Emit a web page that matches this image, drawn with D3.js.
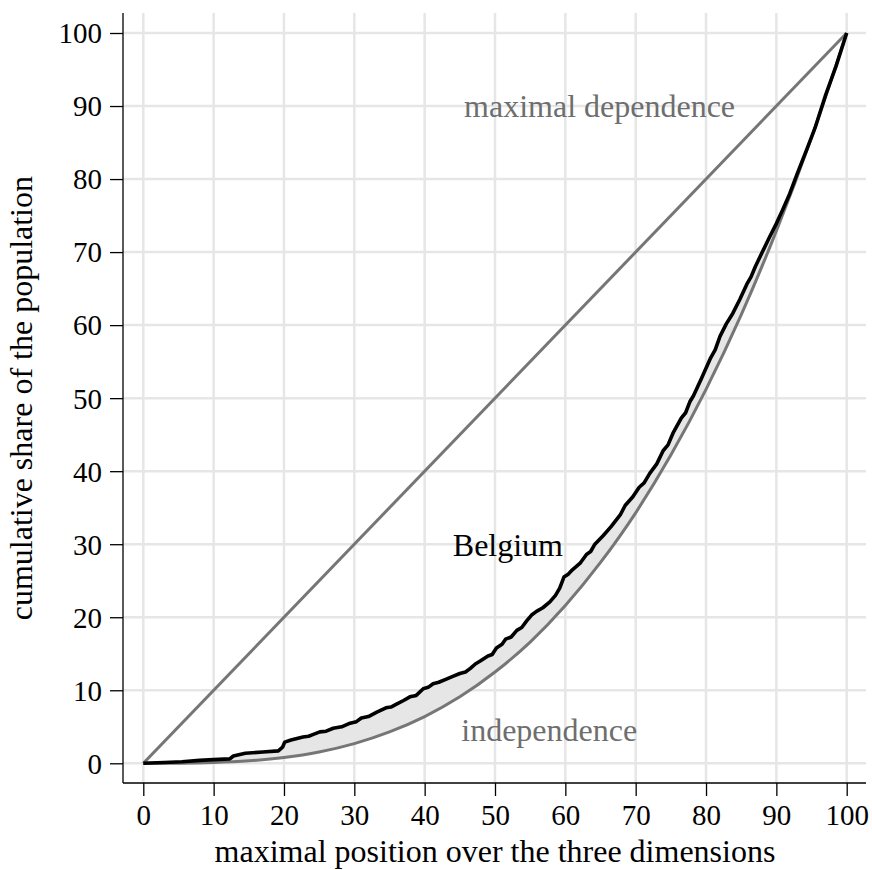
<!DOCTYPE html>
<html>
<head>
<meta charset="utf-8">
<script src="https://cdn.jsdelivr.net/npm/d3@7"></script>
<style>
  body { margin: 0; background: #fff; }
</style>
</head>
<body>
<div id="chart"></div>
<script>
var svgWidth = 872;
var svgHeight = 870;
var serif = "Liberation Serif";

// tick values on both axes
var tickValues = [0, 10, 20, 30, 40, 50, 60, 70, 80, 90, 100];

// diagonal (maximal dependence)
var depX = [0, 100];
var depY = [0, 100];

// independence curve
var indepX = [0, 5, 10, 15, 20, 25, 30, 35, 40, 45, 50, 55, 60, 65, 70, 75, 80, 85, 90, 95, 100];
var indepY = [0, 0.01, 0.1, 0.34, 0.8, 1.56, 2.7, 4.3, 6.4, 9.1, 12.5, 16.6, 21.6, 27.5, 34.3, 42.2, 51.2, 61.4, 72.9, 85.7, 100];

// Belgium curve
var belX = [0, 3, 5.5, 8, 10, 12.3, 12.8, 14.5, 17, 19.2, 19.8, 20.1, 21, 22.7, 23.5, 24, 25.1, 26, 27, 28.2, 29.4, 30.3, 31, 32, 33.2,
  34.5, 35.2, 36, 37, 37.9, 38.8, 39.8, 40.5, 41.2, 42, 43, 44, 45, 45.8, 46.5, 47.2, 47.9, 49, 49.6, 50.2, 51, 51.5, 52.3, 53.1,
  53.8, 54.5, 55.2, 55.9, 56.8, 57.8, 58.6, 59.2, 59.8,
  60.4, 61, 62.1, 63, 63.6, 64.2, 65.4, 66.5, 67.3, 67.8, 68.5, 69.6, 70.5, 71.2, 72, 73, 73.9, 74.6, 75.3, 76.5, 77.1, 77.7, 78.2, 79.3,
  80.6, 81.3, 82, 82.9, 83.8, 84.8, 85.8, 86.4, 87, 88.1, 89, 90, 90.9, 91.9, 93, 94.3, 95.5, 97, 98.5, 100];
var belY = [0, 0.1, 0.22, 0.4, 0.5, 0.6, 1.0, 1.37, 1.55, 1.7, 2.2, 2.9, 3.2, 3.6, 3.7, 3.9, 4.3, 4.4, 4.8, 5.0, 5.5, 5.7, 6.2, 6.4, 7.0,
  7.6, 7.7, 8.1, 8.6, 9.1, 9.3, 10.2, 10.4, 10.9, 11.1, 11.5, 11.9, 12.3, 12.5, 13.0, 13.6, 14.0, 14.7, 14.9, 15.8, 16.3, 17.0, 17.3, 18.2,
  18.6, 19.5, 20.3, 20.8, 21.3, 22.1, 23.0, 24.0, 25.5,
  25.9, 26.5, 27.4, 28.6, 29.0, 30.0, 31.2, 32.4, 33.4, 34.0, 35.3, 36.5, 37.8, 38.4, 39.7, 41.0, 42.8, 43.6, 45.2, 47.3, 48.0, 49.5, 50.3, 52.6,
  55.4, 56.6, 58.5, 60.2, 61.6, 63.5, 65.6, 66.6, 68.0, 70.2, 72.0, 73.9, 75.8, 78.0, 80.8, 84.0, 87.0, 91.5, 95.5, 100];

var labels = [
  { text: "maximal dependence", x: 45.6, y: 88.5, color: "#6e6e6e" },
  { text: "Belgium", x: 44.0, y: 28.4, color: "#000" },
  { text: "independence", x: 45.2, y: 3.05, color: "#6e6e6e" }
];

var plotLeft = 123, plotRight = 866, plotTop = 13, plotBottom = 783;

var svg = d3.select("#chart")
  .append("svg")
  .attr("width", svgWidth)
  .attr("height", svgHeight)
  .style("font-family", serif);

var xScale = d3.scaleLinear().domain([0, 100]).range([143.3, 846.7]);
var yScale = d3.scaleLinear().domain([0, 100]).range([763.3, 33]);

// grid
svg.append("g").selectAll("line")
  .data(tickValues).enter().append("line")
  .attr("x1", d => xScale(d)).attr("x2", d => xScale(d))
  .attr("y1", plotTop).attr("y2", plotBottom)
  .attr("stroke", "#e6e6e6").attr("stroke-width", 2.5);

svg.append("g").selectAll("line")
  .data(tickValues).enter().append("line")
  .attr("y1", d => yScale(d)).attr("y2", d => yScale(d))
  .attr("x1", plotLeft).attr("x2", plotRight)
  .attr("stroke", "#e6e6e6").attr("stroke-width", 2.5);

var indep = indepX.map((x, i) => [x, indepY[i]]);
var bel = belX.map((x, i) => [x, belY[i]]);
var dep = depX.map((x, i) => [x, depY[i]]);

var line = d3.line().x(d => xScale(d[0])).y(d => yScale(d[1]));
var smoothLine = d3.line().x(d => xScale(d[0])).y(d => yScale(d[1])).curve(d3.curveMonotoneX);

// sample the smooth independence curve for the closing edge of the shading
var tmp = svg.append("path").attr("d", smoothLine(indep)).attr("fill", "none");
var node = tmp.node();
var len = node.getTotalLength();
var indepDense = [];
for (var i = 0; i <= 200; i++) {
  var p = node.getPointAtLength(len * i / 200);
  indepDense.push([xScale.invert(p.x), yScale.invert(p.y)]);
}
tmp.remove();

// shaded area between Belgium and independence
svg.append("path")
  .attr("d", line(bel.concat(indepDense.slice().reverse())) + "Z")
  .attr("fill", "#e6e6e6")
  .attr("stroke", "none");

// diagonal
svg.append("path")
  .attr("d", line(dep))
  .attr("fill", "none").attr("stroke", "#767676").attr("stroke-width", 3);

// independence
svg.append("path")
  .attr("d", smoothLine(indep))
  .attr("fill", "none").attr("stroke", "#767676").attr("stroke-width", 3);

// Belgium
svg.append("path")
  .attr("d", line(bel))
  .attr("fill", "none").attr("stroke", "#000").attr("stroke-width", 3.6)
  .attr("stroke-linejoin", "round");

// axes
var leftAxis = d3.axisLeft(yScale).tickValues(tickValues).tickSize(13).tickPadding(8);
var bottomAxis = d3.axisBottom(xScale).tickValues(tickValues).tickSize(13).tickPadding(8);

var gy = svg.append("g").attr("transform", `translate(${plotLeft}, 0)`).call(leftAxis);
var gx = svg.append("g").attr("transform", `translate(0, ${plotBottom})`).call(bottomAxis);

[gx, gy].forEach(function(g) {
  g.attr("font-family", null).attr("font-size", null);
  g.select(".domain").remove();
  g.selectAll("line").attr("stroke", "#000").attr("stroke-width", 1.3);
  g.selectAll("text")
    .style("font-family", serif)
    .style("font-size", "29px")
    .attr("fill", "#000");
});
gy.selectAll("text").attr("dy", "0.34em");
gx.selectAll("text").attr("dy", "0.72em");

svg.append("line")
  .attr("x1", plotLeft).attr("x2", plotLeft)
  .attr("y1", plotTop).attr("y2", plotBottom)
  .attr("stroke", "#000").attr("stroke-width", 1.3);
svg.append("line")
  .attr("x1", plotLeft).attr("x2", plotRight)
  .attr("y1", plotBottom).attr("y2", plotBottom)
  .attr("stroke", "#000").attr("stroke-width", 1.3);

// annotations
svg.selectAll("text.lab")
  .data(labels).enter().append("text")
  .attr("class", "lab")
  .attr("x", d => xScale(d.x))
  .attr("y", d => yScale(d.y))
  .style("font-family", serif)
  .style("font-size", "32px")
  .attr("fill", d => d.color)
  .text(d => d.text);

// axis titles
svg.append("text")
  .attr("x", xScale(50))
  .attr("y", 862)
  .attr("text-anchor", "middle")
  .style("font-family", serif)
  .style("font-size", "32px")
  .text("maximal position over the three dimensions");

svg.append("text")
  .attr("transform", `translate(32, ${yScale(50)}) rotate(-90)`)
  .attr("text-anchor", "middle")
  .style("font-family", serif)
  .style("font-size", "32px")
  .text("cumulative share of the population");
</script>
</body>
</html>
